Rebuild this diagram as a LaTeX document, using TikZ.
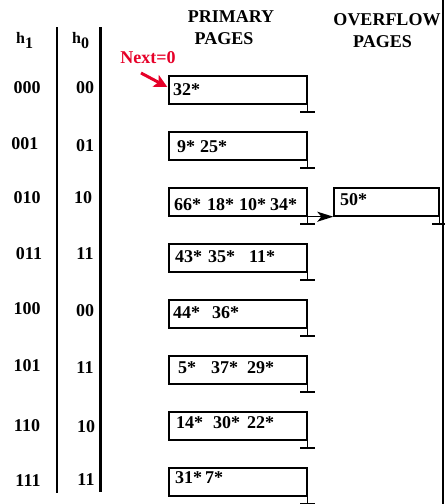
\documentclass[tikz,border=0pt]{standalone}
\usepackage{fontspec}
\setmainfont{Liberation Serif}
\usetikzlibrary{calc,arrows.meta}
\begin{document}
\begin{tikzpicture}[x=1pt,y=-1pt,
  lbl/.style={font=\fontsize{18}{18}\selectfont\bfseries, inner sep=0pt, anchor=base},
  pagebox/.style={draw, line width=1.4pt, minimum width=138pt, minimum height=28pt, inner sep=0pt},
  ovbox/.style={draw, line width=1.4pt, minimum width=105pt, minimum height=28pt, inner sep=0pt},
  entry/.style={font=\fontsize{18}{18}\selectfont\bfseries, inner sep=0pt, anchor=base west},
  gnd/.style={line width=1.4pt}]
\useasboundingbox (0,0) rectangle (445,504);
% headers
\node[lbl] (hp1) at (231,22) {PRIMARY};
\node[lbl] (hp2) at (224,44) {PAGES};
\node[lbl] (ho1) at (387,25) {OVERFLOW};
\node[lbl] (ho2) at (382.5,47) {PAGES};
\node[inner sep=0pt, anchor=base west, font=\bfseries] (h1) at (16,43)
  {\fontsize{16}{16}\selectfont h\raisebox{-5pt}{\fontsize{16}{16}\selectfont 1}};
\node[inner sep=0pt, anchor=base west, font=\bfseries] (h0) at (72,43)
  {\fontsize{16}{16}\selectfont h\raisebox{-5pt}{\fontsize{16}{16}\selectfont 0}};
% column rules
\coordinate (t1) at (57,27); \coordinate (e1) at (57,493);
\coordinate (t2) at (100,27); \coordinate (e2) at (100,492);
\draw[line width=1.4pt] (t1) -- (e1);
\draw[line width=3pt] (t2) -- (e2);
\coordinate (r1) at (443,0); \coordinate (r2) at (443,504);
\draw[line width=1.4pt] (r1) -- (r2);
% row labels
\node[lbl] (a0) at (27,93) {000};  \node[lbl] (c0) at (85,93) {00};
\node[lbl] (a1) at (25,149) {001}; \node[lbl] (c1) at (85,151) {01};
\node[lbl] (a2) at (27,203) {010}; \node[lbl] (c2) at (83,203) {10};
\node[lbl] (a3) at (29,259) {011}; \node[lbl] (c3) at (85,259) {11};
\node[lbl] (a4) at (27,314) {100}; \node[lbl] (c4) at (85,316) {00};
\node[lbl] (a5) at (27,371) {101}; \node[lbl] (c5) at (85,373) {11};
\node[lbl] (a6) at (27,431) {110}; \node[lbl] (c6) at (86,432) {10};
\node[lbl] (a7) at (28,486) {111}; \node[lbl] (c7) at (86,485) {11};
% primary pages
\node[pagebox] (b0) at (238,90) {};
\node[pagebox] (b1) at (238,146) {};
\node[pagebox] (b2) at (238,202) {};
\node[pagebox] (b3) at (238,258) {};
\node[pagebox] (b4) at (238,314) {};
\node[pagebox] (b5) at (238,370) {};
\node[pagebox] (b6) at (238,426) {};
\node[pagebox] (b7) at (238,482) {};
\node[ovbox] (ov) at (386.5,202) {};
% entries
\node[entry] (t0) at (173,95) {32*};
\node[entry] (tt1) at (177,152) {9*\hspace{5pt}25*};
\node[entry] (tt2) at (174,210) {66*\hspace{6pt}18*\hspace{5pt}10*\hspace{4pt}34*};
\node[entry] (tt3) at (175,262) {43*\hspace{6pt}35*\hspace{14pt}11*};
\node[entry] (tt4) at (173,318) {44*\hspace{12pt}36*};
\node[entry] (tt5) at (178,373) {5*\hspace{15pt}37*\hspace{9pt}29*};
\node[entry] (tt6) at (176,428) {14*\hspace{10pt}30*\hspace{7pt}22*};
\node[entry] (tt7) at (175,483) {31*\hspace{3pt}7*};
\node[entry] (tov) at (340,205) {50*};
% ground ticks
\foreach \b in {b0,b1,b2,b3,b4,b5,b6,b7,ov}{
  \draw[gnd] (\b.east) -- ++(0,22) coordinate (g\b);
  \draw[gnd] ($(g\b)+(-7.5,0)$) -- ($(g\b)+(7.5,0)$);
}
% overflow arrow
\draw[line width=1.4pt, -{Stealth[length=16pt,width=10pt,inset=4pt]}] (b2.south east) -- (ov.south west);
% Next pointer
\node[lbl, text={rgb,255:red,230;green,0;blue,40}] (nx) at (148,63) {Next=0};
\coordinate (ntail) at (141,73);
\draw[line width=3pt, draw={rgb,255:red,230;green,0;blue,40},
  -{Stealth[length=13pt,width=13pt,inset=3pt,fill={rgb,255:red,230;green,0;blue,40}]}]
  (ntail) -- ($(b0.west)+(-1,-3)$);
\end{tikzpicture}
\end{document}
